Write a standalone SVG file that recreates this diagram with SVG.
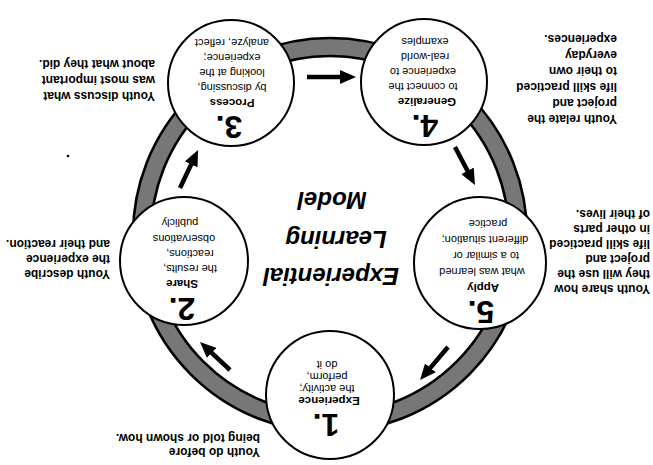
<svg xmlns="http://www.w3.org/2000/svg" width="653" height="465" viewBox="0 0 653 465">
<style>
text { font-family: "Liberation Sans", Arial, sans-serif; fill: #000; }
.ring { fill: #777; stroke: #000; stroke-width: 2.6; fill-rule: evenodd; }
.node circle { fill: #fff; stroke: #000; stroke-width: 2; }
.num { font-size: 32px; font-weight: bold; text-anchor: middle; }
.head { font-size: 11.5px; font-weight: bold; text-anchor: middle; }
.body { font-size: 11px; text-anchor: middle; }
.note { font-size: 12px; font-weight: bold; }
.title { font-size: 24px; font-weight: bold; font-style: italic; text-anchor: middle; }
.arrow { stroke: #000; stroke-width: 4.5; fill: none; marker-end: url(#ah); }
</style>
<defs>
<marker id="ah" markerUnits="userSpaceOnUse" markerWidth="16" markerHeight="14" refX="4" refY="7" orient="auto" viewBox="0 0 16 14">
<path d="M0,0 L16,7 L0,14 z" fill="#000"/>
</marker>
</defs>
<g transform="rotate(180 326.5 232.5)">
<g id="ring">
<path class="ring" d="M126,230 a197,197 0 1,0 394,0 a197,197 0 1,0 -394,0 Z M144,230 a179,179 0 1,0 358,0 a179,179 0 1,0 -358,0 Z"/>
</g>
<g id="connectors">
<line class="arrow" x1="423" y1="95" x2="444.2" y2="114.8"/>
<line class="arrow" x1="473" y1="277" x2="460.1" y2="304.2"/>
<line class="arrow" x1="346" y1="388" x2="309" y2="388"/>
<line class="arrow" x1="198" y1="318" x2="183.6" y2="290.6"/>
<line class="arrow" x1="205" y1="118" x2="225.2" y2="94.1"/>
</g>
<g id="node-1" class="node">
<circle cx="323" cy="70" r="64"/>
<text class="num" x="327" y="51">1.</text>
<text class="head" x="324" y="68">Experience</text>
<text class="body" x="326" y="80">the activity;</text>
<text class="body" x="326" y="92">perform,</text>
<text class="body" x="326" y="104">do it</text>
</g>
<g id="node-2" class="node">
<circle cx="469" cy="204" r="64"/>
<text class="num" x="471" y="167">2.</text>
<text class="head" x="471" y="185">Share</text>
<text class="body" x="463" y="200">the results,</text>
<text class="body" x="463" y="215">reactions,</text>
<text class="body" x="469" y="230">observations</text>
<text class="body" x="473" y="246">publicly</text>
</g>
<g id="node-3" class="node">
<circle cx="422" cy="382" r="63"/>
<text class="num" x="424" y="349">3.</text>
<text class="head" x="421" y="366">Process</text>
<text class="body" x="421" y="381">by discussing,</text>
<text class="body" x="421" y="396">looking at the</text>
<text class="body" x="421" y="411">experience;</text>
<text class="body" x="421" y="426">analyze, reflect</text>
</g>
<g id="node-4" class="node">
<circle cx="229" cy="383" r="63"/>
<text class="num" x="228" y="350">4.</text>
<text class="head" x="226" y="367">Generalize</text>
<text class="body" x="230" y="382">to connect the</text>
<text class="body" x="230" y="397">experience to</text>
<text class="body" x="228" y="412">real-world</text>
<text class="body" x="228" y="427">examples</text>
</g>
<g id="node-5" class="node">
<circle cx="173" cy="202" r="66"/>
<text class="num" x="172" y="164">5.</text>
<text class="head" x="170" y="181">Apply</text>
<text class="body" x="171" y="197">what was learned</text>
<text class="body" x="167" y="213">to a similar or</text>
<text class="body" x="168" y="229">different situation;</text>
<text class="body" x="165" y="245">practice</text>
</g>
<g id="title">
<text class="title" x="322" y="197">Experiential</text>
<text class="title" x="317" y="234">Learning</text>
<text class="title" x="321" y="273">Model</text>
</g>
<g id="notes">
<text class="note" x="393" y="17">Youth do before</text>
<text class="note" x="393" y="31">being told or shown how.</text>
<text class="note" x="543" y="195">Youth describe</text>
<text class="note" x="543" y="210">the experience</text>
<text class="note" x="543" y="225">and their reaction.</text>
<text class="note" x="498" y="373">Youth discuss what</text>
<text class="note" x="498" y="389">was most important</text>
<text class="note" x="498" y="405">about what they did.</text>
<text class="note" x="36" y="350">Youth relate the</text>
<text class="note" x="36" y="366">project and</text>
<text class="note" x="36" y="382">life skill practiced</text>
<text class="note" x="36" y="398">to their own</text>
<text class="note" x="36" y="414">everyday</text>
<text class="note" x="36" y="430">experiences.</text>
<text class="note" x="3" y="180">Youth share how</text>
<text class="note" x="3" y="195">they will use the</text>
<text class="note" x="3" y="210">project and</text>
<text class="note" x="3" y="225">life skill practiced</text>
<text class="note" x="3" y="240">in other parts</text>
<text class="note" x="3" y="255">of their lives.</text>
<circle cx="585" cy="309" r="1.3" fill="#000"/>
</g>
</g>
</svg>
